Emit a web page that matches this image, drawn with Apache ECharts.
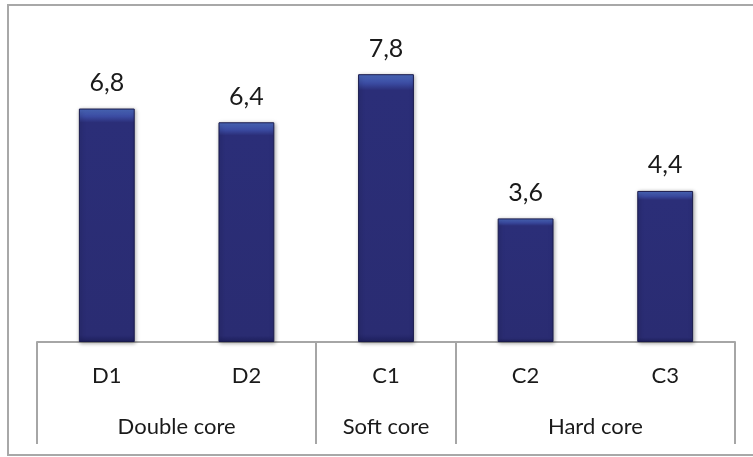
<!DOCTYPE html>
<html>
<head>
<meta charset="utf-8">
<script src="https://cdn.jsdelivr.net/npm/echarts@6/dist/echarts.min.js"></script>
<style>
  html, body { margin: 0; padding: 0; background: #fff; }
  #chart { width: 753px; height: 457px; }
</style>
</head>
<body>
<div id="chart"></div>
<script>
// data
const categories = ['D1', 'D2', 'C1', 'C2', 'C3'];
const values = [6.8, 6.4, 7.8, 3.6, 4.4];
const groupNames = ['Double core', 'Soft core', 'Hard core'];
const groupCenters = [1, 2.5, 4];      // in category units on the group axis
const groupBounds = [0, 2, 3, 5];      // separator positions

const font = 'Lato, "Open Sans", sans-serif';

const chart = echarts.init(document.getElementById('chart'));

const option = {
  animation: false,
  graphic: [{
    type: 'rect',
    shape: { x: 8, y: 5, width: 760, height: 450 },
    style: { fill: 'none', stroke: '#a8a8a8', lineWidth: 2 },
    silent: true
  }],
  grid: { left: 37, right: 18, top: 33, bottom: 115 },
  xAxis: [
    {
      type: 'category',
      data: categories,
      axisLine: { lineStyle: { color: '#a6a6a6', width: 2 } },
      axisTick: { show: false },
      axisLabel: { color: '#1a1a1a', fontSize: 22, fontFamily: font, margin: 23 }
    },
    {
      // second level of the category axis: groups
      type: 'value',
      position: 'bottom',
      min: 0,
      max: 5,
      axisLine: { show: false },
      splitLine: { show: false },
      axisTick: {
        show: true,
        customValues: groupBounds,
        length: 102,
        lineStyle: { color: '#a6a6a6', width: 2 }
      },
      axisLabel: {
        customValues: groupCenters,
        color: '#1a1a1a',
        fontSize: 22,
        fontFamily: font,
        margin: 74,
        formatter: function (v) {
          return groupNames[groupCenters.indexOf(v)] || '';
        }
      }
    }
  ],
  yAxis: {
    type: 'value',
    min: 0,
    max: 9,
    show: false,
    splitLine: { show: false }
  },
  series: [{
    type: 'bar',
    xAxisIndex: 0,
    data: values,
    barWidth: '40%',
    itemStyle: {
      color: new echarts.graphic.LinearGradient(0, 0, 0, 1, [
        { offset: 0, color: '#4d6cc0' },
        { offset: 0.035, color: '#3a4aa0' },
        { offset: 0.06, color: '#2b2e78' },
        { offset: 0.97, color: '#2a2c72' },
        { offset: 1, color: '#1f2160' }
      ]),
      borderColor: '#1a1b4c',
      borderWidth: 1,
      shadowColor: 'rgba(0,0,0,0.35)',
      shadowBlur: 4,
      shadowOffsetX: 1,
      shadowOffsetY: 1
    },
    label: {
      show: true,
      position: 'top',
      distance: 13,
      color: '#1a1a1a',
      fontSize: 25,
      fontFamily: font,
      formatter: function (p) {
        return String(p.value).replace('.', ',');
      }
    }
  }]
};

chart.setOption(option);
</script>
</body>
</html>
